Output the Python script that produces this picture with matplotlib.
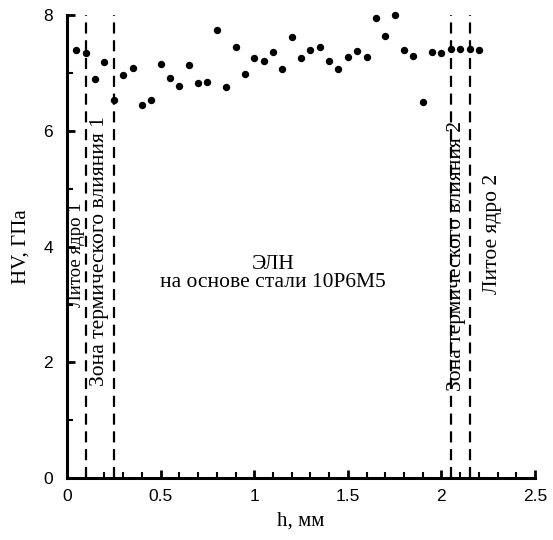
"""Microhardness HV across the weld: ELN based on 10R6M5 steel."""
import matplotlib
matplotlib.use("Agg")
import matplotlib.pyplot as plt
from matplotlib.ticker import MultipleLocator

# measurement positions, mm
h_mm = [0.05, 0.10, 0.15, 0.20, 0.25, 0.30, 0.35, 0.40, 0.45, 0.50,
        0.55, 0.60, 0.65, 0.70, 0.75, 0.80, 0.85, 0.90, 0.95, 1.00,
        1.05, 1.10, 1.15, 1.20, 1.25, 1.30, 1.35, 1.40, 1.45, 1.50,
        1.55, 1.60, 1.65, 1.70, 1.75, 1.80, 1.85, 1.90, 1.95, 2.00,
        2.05, 2.10, 2.15, 2.20]
# microhardness, GPa
hv_gpa = [7.40, 7.34, 6.89, 7.18, 6.53, 6.96, 7.09, 6.45, 6.53, 7.16,
          6.91, 6.78, 7.14, 6.83, 6.85, 7.74, 6.76, 7.45, 6.98, 7.25,
          7.21, 7.36, 7.07, 7.62, 7.25, 7.40, 7.45, 7.21, 7.07, 7.27,
          7.38, 7.27, 7.94, 7.63, 8.00, 7.40, 7.29, 6.49, 7.36, 7.34,
          7.41, 7.41, 7.41, 7.40]

# zone borders, mm
zone_borders = [0.10, 0.25, 2.05, 2.15]

SERIF = "Liberation Serif"
SANS = "Liberation Sans"

fig = plt.figure(figsize=(5.53, 5.40), dpi=100)
ax = fig.add_axes([0.1212, 0.1143, 0.8463, 0.8579])

ax.plot(h_mm, hv_gpa, linestyle="none", marker="o", markersize=4.3,
        color="black", clip_on=False, zorder=3)

for xb in zone_borders:
    ax.axvline(xb, color="black", linestyle=(0, (5, 3)), linewidth=1.6)

# zone captions
ax.text(0.053, 3.86, "Литое ядро 1", rotation=90, ha="center", va="center",
        family=SERIF, fontsize=13.5)
ax.text(0.172, 3.93, "Зона термического влияния 1", rotation=90,
        ha="center", va="center", family=SERIF, fontsize=15.5)
ax.text(2.08, 3.84, "Зона термического влияния 2", rotation=90,
        ha="center", va="center", family=SERIF, fontsize=15.5)
ax.text(2.275, 4.22, "Литое ядро 2", rotation=90, ha="center", va="center",
        family=SERIF, fontsize=15.5)
ax.text(1.10, 3.54, "ЭЛН\nна основе стали 10Р6М5", ha="center",
        va="center", family=SERIF, fontsize=15.5, linespacing=0.95)

ax.set_xlim(0, 2.5)
ax.set_ylim(0, 8)
ax.xaxis.set_minor_locator(MultipleLocator(0.1))
ax.yaxis.set_major_locator(MultipleLocator(2))
ax.yaxis.set_minor_locator(MultipleLocator(1))
ax.set_xticks([0, 0.5, 1, 1.5, 2, 2.5])
ax.set_xticklabels(["0", "0.5", "1", "1.5", "2", "2.5"])

for side in ("top", "right"):
    ax.spines[side].set_visible(False)
for side in ("left", "bottom"):
    ax.spines[side].set_linewidth(2.2)

ax.tick_params(which="major", direction="in", length=6, width=2,
               labelsize=12.5, pad=8)
ax.tick_params(which="minor", direction="in", length=4, width=1.5)
for label in ax.get_xticklabels() + ax.get_yticklabels():
    label.set_family(SANS)
ax.tick_params(axis="y", pad=10)

ax.set_xlabel("h, мм", family=SERIF, fontsize=15, labelpad=5)
ax.set_ylabel("HV, ГПа", family=SERIF, fontsize=15, labelpad=9)

fig.savefig("out.png", dpi=100)
